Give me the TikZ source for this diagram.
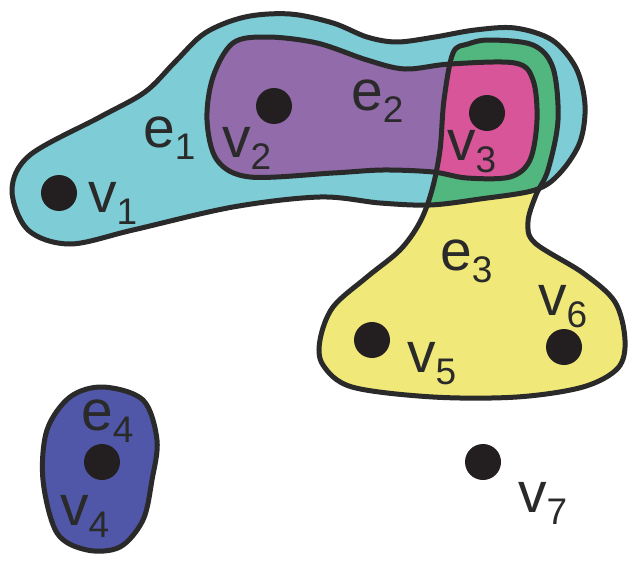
\documentclass[tikz,border=0pt]{standalone}
\usepackage{fontspec}
\setmainfont{Liberation Sans}
\definecolor{cEone}{HTML}{7DCCD6}
\definecolor{cEtwo}{HTML}{926BAA}
\definecolor{cEthree}{HTML}{F0E878}
\definecolor{cEfour}{HTML}{5057A8}
\definecolor{cGreen}{HTML}{52B67F}
\definecolor{cPink}{HTML}{D8559A}
\definecolor{cLine}{HTML}{2A2A2A}
\definecolor{cDot}{HTML}{231F20}
\newcommand{\hsub}[1]{\raisebox{-12.5pt}{\fontsize{37}{37}\selectfont #1}}
\tikzset{
  edgeline/.style={draw=cLine, line width=5pt, line join=round},
  vdot/.style={circle, fill=cDot, minimum size=36pt, inner sep=0pt},
  lab/.style={anchor=base west, inner sep=0pt, text=cLine, font=\fontsize{57}{57}\selectfont}
}
\begin{document}
\begin{tikzpicture}[x=1pt,y=-1pt]
\useasboundingbox (0,0) rectangle (633,562);
\path[save path=\eonepath] plot[smooth cycle, tension=0.55] coordinates {(12,190) (30,155) (100,117) (145,92) (175,62) (205,33) (245,17) (290,14) (333,23) (367,37) (397,42) (435,37) (475,30) (515,28) (552,40) (576,68) (585,105) (580,142) (560,173) (535,190) (480,199) (430,205) (380,203) (320,197) (233,207) (133,230) (70,244) (28,230)};
\path[save path=\ethreepath] plot[smooth cycle, tension=0.55] coordinates {(453,53) (468,44) (490,40) (533,45) (553,68) (558,120) (548,170) (536,195) (528,222) (535,243) (583,273) (615,302) (625,340) (618,368) (583,387) (517,397) (433,397) (352,387) (323,365) (320,340) (333,307) (367,277) (400,250) (420,222) (432,190) (440,150) (444,100)};
\path[save path=\etwopath] plot[smooth cycle, tension=0.55] coordinates {(233,43) (267,37) (317,43) (367,60) (405,69) (450,64) (515,63) (533,80) (537,120) (530,160) (510,177) (467,178) (433,172) (383,170) (333,173) (250,177) (217,160) (207,120) (213,77)};
\path[save path=\efourpath] plot[smooth cycle, tension=0.55] coordinates {(103,387) (143,400) (157,440) (152,480) (143,520) (120,547) (87,550) (57,533) (43,480) (47,430) (70,397)};
% fills
\fill[cEone, use path=\eonepath];
\fill[cEthree, use path=\ethreepath];
\fill[cEtwo, use path=\etwopath];
\begin{scope}
  \clip[use path=\eonepath];
  \fill[cGreen, use path=\ethreepath];
\end{scope}
\begin{scope}
  \clip[use path=\etwopath];
  \fill[cPink, use path=\ethreepath];
\end{scope}
\fill[cEfour, use path=\efourpath];
% outlines
\path[edgeline, use path=\eonepath];
\path[edgeline, use path=\etwopath];
\path[edgeline, use path=\ethreepath];
\path[edgeline, use path=\efourpath];
% vertices
\node[vdot] (v1) at (59,193) {};
\node[vdot] (v2) at (274,106) {};
\node[vdot] (v3) at (487,113) {};
\node[vdot] (v4) at (102,462) {};
\node[vdot] (v5) at (372,340) {};
\node[vdot] (v6) at (564,347) {};
\node[vdot] (v7) at (483,462) {};
% labels
\node[lab] (lv1) at (88,212) {v\hsub{1}};
\node[lab] (le1) at (143,147) {e\hsub{1}};
\node[lab] (lv2) at (222,157) {v\hsub{2}};
\node[lab] (le2) at (351,110) {e\hsub{2}};
\node[lab] (lv3) at (447,160) {v\hsub{3}};
\node[lab] (le3) at (440,270) {e\hsub{3}};
\node[lab] (lv5) at (407,372) {v\hsub{5}};
\node[lab] (lv6) at (538,315) {v\hsub{6}};
\node[lab] (le4) at (81,430) {e\hsub{4}};
\node[lab] (lv4) at (60,525) {v\hsub{4}};
\node[lab] (lv7) at (518,512) {v\hsub{7}};
\end{tikzpicture}
\end{document}
